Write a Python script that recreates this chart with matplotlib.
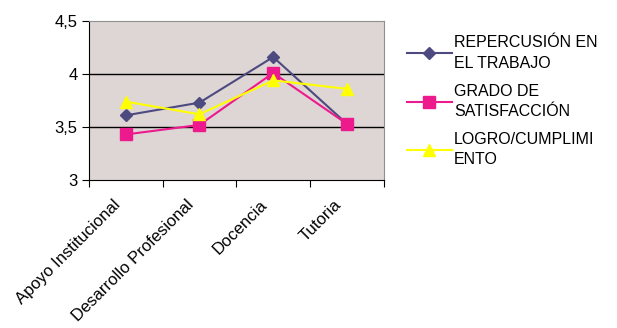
import matplotlib.pyplot as plt
import matplotlib.transforms as mtransforms

plt.rcParams['font.family'] = ['Liberation Sans', 'DejaVu Sans']

categorias = ["Apoyo Institucional", "Desarrollo Profesional", "Docencia", "Tutoria"]
repercusion = [3.61, 3.73, 4.16, 3.53]
satisfaccion = [3.43, 3.52, 4.01, 3.53]
logro = [3.74, 3.62, 3.94, 3.86]
series = ["REPERCUSIÓN EN\nEL TRABAJO", "GRADO DE\nSATISFACCIÓN", "LOGRO/CUMPLIMI\nENTO"]

fig = plt.figure(figsize=(6.17, 3.28), dpi=100)
ax = fig.add_axes([0.144, 0.451, 0.478, 0.485])
ax.set_facecolor('#ddd6d4')

x = range(len(categorias))
ax.plot(x, repercusion, color='#4d4a80', marker='D', markersize=6, lw=1.5, label=series[0], zorder=3)
ax.plot(x, satisfaccion, color='#ec1a8c', marker='s', markersize=8, lw=1.5, label=series[1], zorder=4)
ax.plot(x, logro, color='#ffff00', marker='^', markersize=9, lw=1.5, label=series[2], zorder=5)

ax.set_ylim(3, 4.5)
ax.set_xlim(-0.5, 3.5)
ax.set_yticks([3, 3.5, 4, 4.5])
ax.set_yticklabels(['3', '3,5', '4', '4,5'], fontsize=12)
for yv in [3.5, 4]:
    ax.axhline(yv, color='black', lw=1, zorder=1)

# ticks sit between categories; category names drawn as rotated texts under the centers
ax.set_xticks([-0.5, 0.5, 1.5, 2.5, 3.5])
ax.set_xticklabels([])
ax.tick_params(axis='x', length=5, direction='out')
ax.tick_params(axis='y', length=5, direction='out', pad=3)
shift = mtransforms.ScaledTranslation(-0.08, -0.22, fig.dpi_scale_trans)
for xi, cat in zip(x, categorias):
    ax.text(xi, 0, cat, transform=ax.get_xaxis_transform() + shift, rotation=45,
            ha='right', va='center', rotation_mode='anchor', fontsize=12)

ax.spines['top'].set_color('#909090')
ax.spines['right'].set_color('#909090')

leg = ax.legend(loc='upper left', bbox_to_anchor=(1.03, 1.0), frameon=False, fontsize=11.5,
                handlelength=2.8, handletextpad=0.15, labelspacing=0.8)
for t in leg.get_texts():
    t.set_linespacing(1.45)

fig.savefig('out.png', dpi=100)
